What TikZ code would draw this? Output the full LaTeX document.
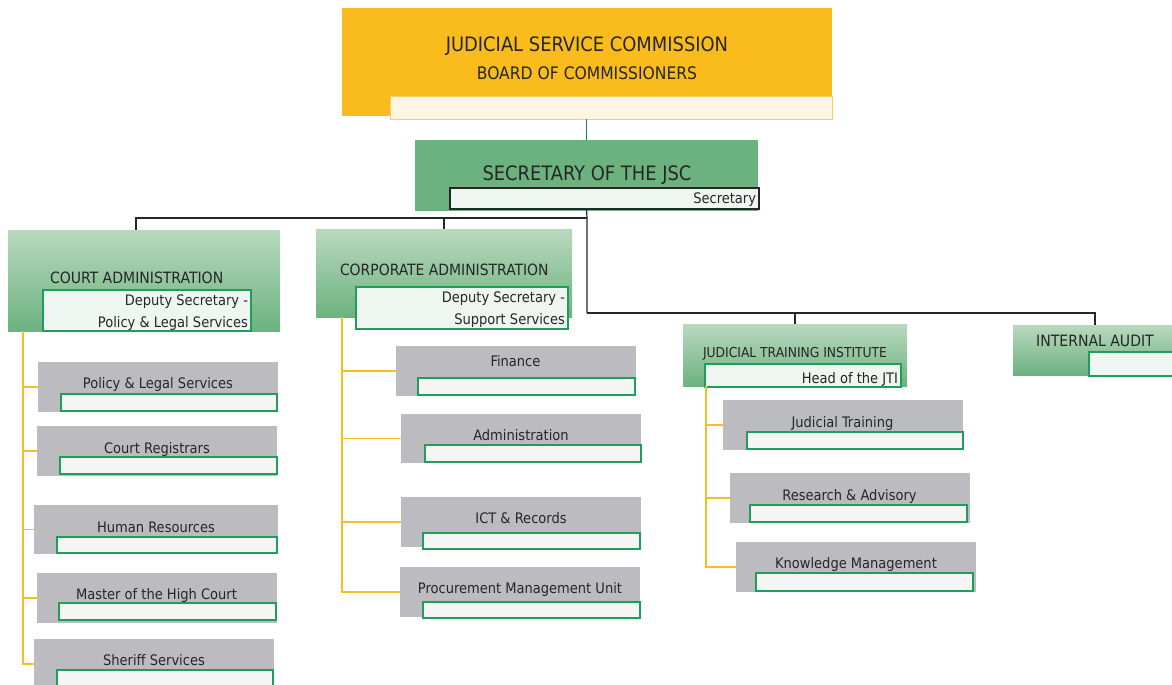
\documentclass[tikz,border=0pt]{standalone}
\usepackage{fontspec}
\setmainfont{DejaVu Sans Condensed}
\definecolor{jscgold}{HTML}{F9BC1C}
\definecolor{jsccream}{HTML}{FEF5E5}
\definecolor{jsccreamedge}{HTML}{F8CF62}
\definecolor{jscgreen}{HTML}{6CB27F}
\definecolor{jscgreenlight}{HTML}{B9D9BF}
\definecolor{jscpanel}{HTML}{EFF5F0}
\definecolor{jscedge}{HTML}{1F9D5B}
\definecolor{jscgrey}{HTML}{BCBCC0}
\definecolor{jscslot}{HTML}{F5F5F5}
\definecolor{jscline}{HTML}{F7BD27}
\definecolor{jscink}{HTML}{262626}

% box from its top-left (#2,#3) to its bottom-right (#4,#5)
\newcommand\orgbox[6]{%
  \node[#6, anchor=north west, minimum width={#4-#2}, minimum height={#5-#3}] (#1) at (#2,#3) {};}

\tikzset{
  plain/.style={inner sep=0pt, outer sep=0pt},
  goldbox/.style={plain, fill=jscgold},
  creamslot/.style={plain, fill=jsccream, draw=jsccreamedge, line width=1pt},
  greenbox/.style={plain, fill=jscgreen},
  fadebox/.style={plain, top color=jscgreenlight, bottom color=jscgreen},
  panel/.style={plain, fill=jscpanel, draw=jscedge, line width=1.2pt},
  darkpanel/.style={plain, fill=jscpanel, draw=jscink, line width=1.2pt},
  greybox/.style={plain, fill=jscgrey},
  slot/.style={plain, fill=jscslot, draw=jscedge, line width=1.2pt},
  txt/.style={inner sep=0pt, outer sep=0pt, text=jscink, font=\fontsize{14.5}{16}\selectfont},
  tcap/.style={txt, anchor=base},
  tleft/.style={txt, anchor=base west},
  tright/.style={txt, anchor=base east},
  blackline/.style={draw=jscink, line width=1.2pt},
  goldline/.style={draw=jscline, line width=1.2pt},
  greenline/.style={draw=jscedge!80!black, line width=1.2pt},
}

\begin{document}
\begin{tikzpicture}[x=1pt, y=-1pt]
\useasboundingbox (0,0) rectangle (1172,685);
\clip (0,0) rectangle (1172,685);

% ---- junction points of the connectors ----
\coordinate (topjoin) at (587,218);
\coordinate (midjoin) at (587,313);
\coordinate (cadrop) at (136,218);
\coordinate (caspine) at (23,331);
\coordinate (coaspine) at (342,317);
\coordinate (jtispine) at (706,386);

% ---- top: board of commissioners ----
\orgbox{board}{342}{8}{832}{116}{goldbox}
\orgbox{boardslot}{390}{96}{832}{119}{creamslot}
\node[tcap, font=\fontsize{19.9}{22}\selectfont] (boardt1) at (587,52) {JUDICIAL SERVICE COMMISSION};
\node[tcap, font=\fontsize{17.3}{20}\selectfont] (boardt2) at (587,79) {BOARD OF COMMISSIONERS};

% ---- secretary ----
\orgbox{sec}{415}{140}{758}{211}{greenbox}
\node[tcap, font=\fontsize{19.9}{22}\selectfont] (sect) at (587,180) {SECRETARY OF THE JSC};
\orgbox{secslot}{450}{188}{759}{209}{darkpanel}
\node[tright] (secslott) at (756,203) {Secretary};

\draw[greenline] (boardslot.south -| sec.north) -- (sec.north);

% ---- the four divisions ----
\orgbox{ca}{8}{230}{280}{331}{fadebox}
\orgbox{coa}{316}{229}{572}{317}{fadebox}
\orgbox{jti}{683}{324}{907}{386}{fadebox}
\orgbox{ia}{1013}{325}{1180}{375}{fadebox}

% ---- court administration ----
\node[tleft, font=\fontsize{15.6}{17}\selectfont] (cat) at (50,283) {COURT ADMINISTRATION};
\orgbox{caslot}{43}{290}{251}{331}{panel}
\node[tright] (caslott1) at (248,305) {Deputy Secretary -};
\node[tright] (caslott2) at (248,327) {Policy \& Legal Services};

\orgbox{ca1}{38}{362}{278}{412}{greybox}
\orgbox{ca1s}{61}{394}{277}{411}{slot}
\node[tcap] (ca1t) at (158,388.5) {Policy \& Legal Services};

\orgbox{ca2}{37}{426}{277}{476}{greybox}
\orgbox{ca2s}{60}{457}{277}{474}{slot}
\node[tcap] (ca2t) at (157,453.5) {Court Registrars};

\orgbox{ca3}{34}{505}{278}{554}{greybox}
\orgbox{ca3s}{57}{537}{277}{553}{slot}
\node[tcap] (ca3t) at (156,532) {Human Resources};

\orgbox{ca4}{37}{573}{277}{623}{greybox}
\orgbox{ca4s}{59}{603}{276}{620}{slot}
\node[tcap] (ca4t) at (156.5,599) {Master of the High Court};

\orgbox{ca5}{34}{639}{274}{689}{greybox}
\orgbox{ca5s}{57}{670}{273}{687}{slot}
\node[tcap] (ca5t) at (154,665.5) {Sheriff Services};

% ---- corporate administration ----
\node[tleft, font=\fontsize{15.5}{17}\selectfont] (coat) at (340,275) {CORPORATE ADMINISTRATION};
\orgbox{coaslot}{356}{287}{568}{329}{panel}
\node[tright] (coaslott1) at (565,302) {Deputy Secretary -};
\node[tright] (coaslott2) at (565,324) {Support Services};

\orgbox{co1}{396}{346}{636}{396}{greybox}
\orgbox{co1s}{418}{378}{635}{395}{slot}
\node[tcap] (co1t) at (515.5,366.5) {Finance};

\orgbox{co2}{401}{414}{641}{463}{greybox}
\orgbox{co2s}{425}{445}{641}{462}{slot}
\node[tcap] (co2t) at (521,440.5) {Administration};

\orgbox{co3}{401}{497}{641}{547}{greybox}
\orgbox{co3s}{423}{533}{640}{549}{slot}
\node[tcap] (co3t) at (521,523.5) {ICT \& Records};

\orgbox{co4}{400}{567}{640}{617}{greybox}
\orgbox{co4s}{423}{602}{640}{618}{slot}
\node[tcap] (co4t) at (520,593.5) {Procurement Management Unit};

% ---- judicial training institute ----
\node[tleft, font=\fontsize{13.7}{15}\selectfont] (jtit) at (703,357) {JUDICIAL TRAINING INSTITUTE};
\orgbox{jtislot}{705}{364}{901}{387}{panel}
\node[tright] (jtislott) at (898,383) {Head of the JTI};

\orgbox{jt1}{723}{400}{963}{450}{greybox}
\orgbox{jt1s}{747}{432}{963}{449}{slot}
\node[tcap] (jt1t) at (842.5,427) {Judicial Training};

\orgbox{jt2}{730}{473}{970}{523}{greybox}
\orgbox{jt2s}{750}{505}{967}{522}{slot}
\node[tcap] (jt2t) at (849.5,500) {Research \& Advisory};

\orgbox{jt3}{736}{542}{976}{592}{greybox}
\orgbox{jt3s}{756}{573}{973}{591}{slot}
\node[tcap] (jt3t) at (856,568) {Knowledge Management};

% ---- internal audit ----
\node[tcap, font=\fontsize{15.6}{18}\selectfont] (iat) at (1095,346) {INTERNAL AUDIT};
\orgbox{iaslot}{1089}{352}{1180}{376}{panel}

% ---- black links ----
\draw[blackline] (secslot.south -| sec.north) -- (topjoin) -- (midjoin);
\draw[blackline] (topjoin) -- (cadrop) -- (cadrop |- ca.north);
\draw[blackline] (topjoin -| coa.north) -- (coa.north);
\draw[blackline] (midjoin) -| (jti.north);
\draw[blackline] (midjoin) -| (ia.north -| iat.north);

% ---- gold links to the sections ----
\draw[goldline] (caspine) |- (ca5.west);
\foreach \k in {1,...,4} \draw[goldline] (ca\k.west) -- (ca\k.west -| caspine);
\draw[goldline] (coaspine) |- (co4.west);
\foreach \k in {1,...,3} \draw[goldline] (co\k.west) -- (co\k.west -| coaspine);
\draw[goldline] (jtispine) |- (jt3.west);
\foreach \k in {1,2} \draw[goldline] (jt\k.west) -- (jt\k.west -| jtispine);
\end{tikzpicture}
\end{document}
